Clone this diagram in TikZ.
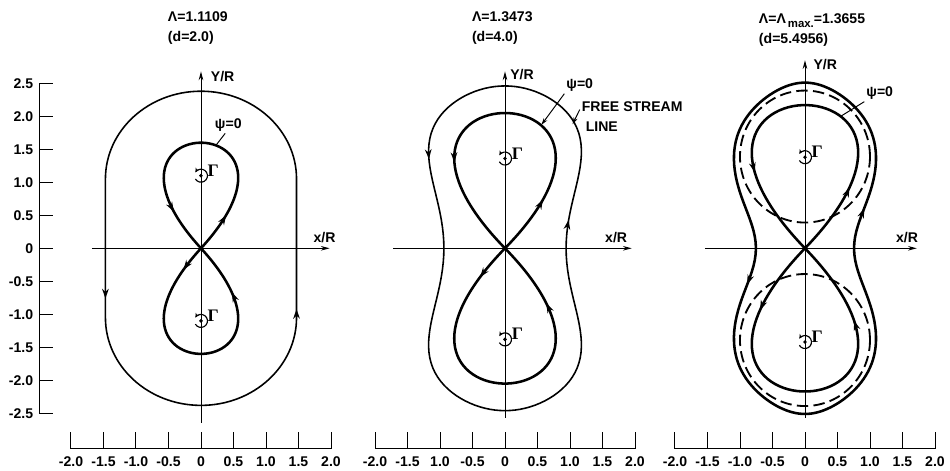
\documentclass[tikz,border=0pt]{standalone}
\usepackage{fontspec}
\setmainfont{Liberation Sans}
\newfontfamily\gfont{Liberation Serif}
\usetikzlibrary{arrows.meta,decorations.markings,calc}

\tikzset{
  ax/.style={line width=0.55pt},
  axarrow/.style={ax,-{Stealth[length=5pt,width=2.6pt]}},
  lead/.style={ax,-{Stealth[length=4pt,width=2.4pt]}},
  psiline/.style={line width=1.45pt},
  freeline/.style={line width=0.9pt},
  dashline/.style={line width=1.05pt,dash pattern=on 6.5pt off 3pt},
  lbl/.style={font=\fontsize{8}{11.3}\selectfont\bfseries,inner sep=1pt},
  glbl/.style={font=\fontsize{10}{11}\selectfont\gfont\bfseries,inner sep=0pt},
  vdot/.style={circle,fill,inner sep=0pt,minimum size=2.2pt},
  vring/.style={line width=0.65pt,-{Stealth[length=2.6pt,width=2.4pt]}},
  flow/.style 2 args={postaction={decorate},decoration={markings,
    mark=at position #1 with {\arrow{Stealth[length=5.5pt,width=3.8pt]}},
    mark=at position #2 with {\arrow{Stealth[length=5.5pt,width=3.8pt]}}}}
}

\begin{document}
\begin{tikzpicture}[x=1.3cm,y=1.32cm]
  \useasboundingbox (-3.092,-3.374) rectangle (11.523,3.762);

  % Y/R scale on the left
  \draw[ax] (-2.49,2.5) -- (-2.49,-2.5);
  \foreach \lab [count=\i] in {2.5,2.0,1.5,1.0,0.5,0,-0.5,-1.0,-1.5,-2.0,-2.5} {
    \draw[ax] (-2.49,3-0.5*\i) -- (-2.27,3-0.5*\i);
    \node[lbl,anchor=east] (yl\i) at (-2.55,3-0.5*\i) {\lab};
  }

  % panel d=2.0
  \begin{scope}
    \draw[axarrow] (-1.68,0) -- (1.98,0);
    \draw[axarrow] (0,-2.64) -- (0,2.68);
    \node[lbl] (xA) at (1.9,0.17) {x/R};
    \node[lbl,anchor=west] (yA) at (0.12,2.6) {Y/R};
    \node[lbl,align=left,anchor=west] (tA) at (-0.54,3.34) {Λ=1.1109\\(d=2.0)};
    \draw[freeline,flow={0.01}{0.64}] (1.47,-1.05) -- (1.47,1.05)
      arc[start angle=0,end angle=180,x radius=1.47,y radius=1.33] -- (-1.47,-1.05)
      arc[start angle=180,end angle=360,x radius=1.47,y radius=1.33] -- cycle;
    \draw[psiline,flow={0.15}{0.835}] plot[domain=0:180,samples=90,variable=\s]
      ({0.93*1.6*sin(\s)*sin(\s)*cos(\s)},{1.6*sin(\s)*sin(\s)});
    \draw[psiline,flow={0.10}{0.805}] plot[domain=0:180,samples=90,variable=\s]
      ({-0.93*1.6*sin(\s)*sin(\s)*cos(\s)},{-1.6*sin(\s)*sin(\s)});
    \foreach \yv [count=\n] in {1.1,-1.1} {
      \node[vdot] (vA\n) at (0,\yv) {};
      \draw[vring] (vA\n.center) ++(-150:1.3mm) arc[start angle=-150,end angle=150,radius=1.3mm];
      \node[glbl] (gA\n) at (0.19,\yv+0.08) {Γ};
    }
    \node[lbl] (psiA) at (0.42,1.87) {ψ=0};
    \coordinate (psiAend) at (0.23,1.56);
    \draw[ax] (psiA.-110) -- (psiAend);
    \draw[ax] (-2,-2.79) -- (-2,-3.03) -- (2,-3.03) -- (2,-2.79);
    \foreach \lab [count=\i] in {-2.0,-1.5,-1.0,-0.5,0,0.5,1.0,1.5,2.0} {
      \draw[ax] (-2.5+0.5*\i,-3.03) -- (-2.5+0.5*\i,-2.79);
      \node[lbl] (sA\i) at (-2.5+0.5*\i,-3.24) {\lab};
    }
  \end{scope}

  % panel d=4.0
  \begin{scope}[shift={(4.677,0)}]
    \draw[axarrow] (-1.72,0) -- (1.95,0);
    \draw[axarrow] (0,-2.57) -- (0,2.68);
    \node[lbl] (xB) at (1.71,0.16) {x/R};
    \node[lbl,anchor=west] (yB) at (0.05,2.63) {Y/R};
    \node[lbl,align=left,anchor=west] (tB) at (-0.54,3.34) {Λ=1.3473\\(d=4.0)};
    \draw[freeline,flow={0.142}{0.784}] plot[domain=0:360,samples=145,variable=\t]
      ({-sin(\t)*(0.94+1.819*cos(\t)*cos(\t)-0.968*cos(\t)*cos(\t)*cos(\t)*cos(\t))},{2.46*cos(\t)}) -- cycle;
    \draw[psiline,flow={0.17}{0.72}] plot[domain=0:180,samples=90,variable=\s]
      ({0.99*2.05*sin(\s)*sin(\s)*cos(\s)},{2.05*sin(\s)*sin(\s)});
    \draw[psiline,flow={0.105}{0.81}] plot[domain=0:180,samples=90,variable=\s]
      ({-0.99*2.05*sin(\s)*sin(\s)*cos(\s)},{-2.05*sin(\s)*sin(\s)});
    \foreach \yv [count=\n] in {1.36,-1.38} {
      \node[vdot] (vB\n) at (0,\yv) {};
      \draw[vring] (vB\n.center) ++(-150:1.3mm) arc[start angle=-150,end angle=150,radius=1.3mm];
      \node[glbl] (gB\n) at (0.19,\yv+0.08) {Γ};
    }
    \node[lbl] (psiB) at (1.15,2.47) {ψ=0};
    \coordinate (psiBend) at (0.56,1.87);
    \draw[lead] (psiB.south west) -- (psiBend);
    \node[lbl,align=left,anchor=west] (fsl) at (1.15,1.99) {FREE STREAM\\\ LINE};
    \coordinate (fslend) at (1.04,1.88);
    \draw[lead] (fsl.172) -- (fslend);
    \draw[ax] (-2,-2.79) -- (-2,-3.03) -- (2,-3.03) -- (2,-2.79);
    \foreach \lab [count=\i] in {-2.0,-1.5,1.0,-0.5,0,0.5,1.0,1.5,2.0} {
      \draw[ax] (-2.5+0.5*\i,-3.03) -- (-2.5+0.5*\i,-2.79);
      \node[lbl] (sB\i) at (-2.5+0.5*\i,-3.24) {\lab};
    }
  \end{scope}

  % panel d=5.4956
  \begin{scope}[shift={(9.292,0)}]
    \draw[axarrow] (-1.54,0) -- (1.72,0);
    \draw[axarrow] (0,-2.57) -- (0,2.85);
    \node[lbl] (xC) at (1.57,0.16) {x/R};
    \node[lbl,anchor=west] (yC) at (0.1,2.78) {Y/R};
    \node[lbl,align=left,anchor=west] (tC) at (-0.74,3.31)
      {Λ=Λ\raisebox{-0.5ex}{\fontsize{6.5}{7}\selectfont\bfseries\,max.}=1.3655\\(d=5.4956)};
    \draw[dashline] (0,1.39) circle[radius=1];
    \draw[dashline] (0,-1.39) circle[radius=1];
    \draw[psiline,flow={0.295}{0.80}] plot[domain=0:360,samples=181,variable=\t]
      ({-sin(\t)*(0.967+1.485*cos(\t)*cos(\t)-1.096*cos(\t)*cos(\t)*cos(\t)*cos(\t)-0.212*exp(-cos(\t)*cos(\t)/0.09))},{2.51*cos(\t)}) -- cycle;
    \draw[psiline,flow={0.197}{0.76}] plot[domain=0:180,samples=90,variable=\s]
      ({0.98*2.17*sin(\s)*sin(\s)*cos(\s)},{2.17*sin(\s)*sin(\s)});
    \draw[psiline,flow={0.2}{0.77}] plot[domain=0:180,samples=90,variable=\s]
      ({-0.98*2.17*sin(\s)*sin(\s)*cos(\s)},{-2.17*sin(\s)*sin(\s)});
    \foreach \yv [count=\n] in {1.38,-1.42} {
      \node[vdot] (vC\n) at (0,\yv) {};
      \draw[vring] (vC\n.center) ++(-150:1.3mm) arc[start angle=-150,end angle=150,radius=1.3mm];
      \node[glbl] (gC\n) at (0.19,\yv+0.08) {Γ};
    }
    \node[lbl] (psiC) at (1.15,2.35) {ψ=0};
    \coordinate (psiCend) at (0.55,2.0);
    \draw[ax] (psiC.south west) -- (psiCend);
    \draw[ax] (-2,-2.79) -- (-2,-3.03) -- (2,-3.03) -- (2,-2.79);
    \foreach \lab [count=\i] in {-2.0,-1.5,-1.0,-0.5,0,0.5,1.0,1.5,2.0} {
      \draw[ax] (-2.5+0.5*\i,-3.03) -- (-2.5+0.5*\i,-2.79);
      \node[lbl] (sC\i) at (-2.5+0.5*\i,-3.24) {\lab};
    }
  \end{scope}
\end{tikzpicture}
\end{document}
